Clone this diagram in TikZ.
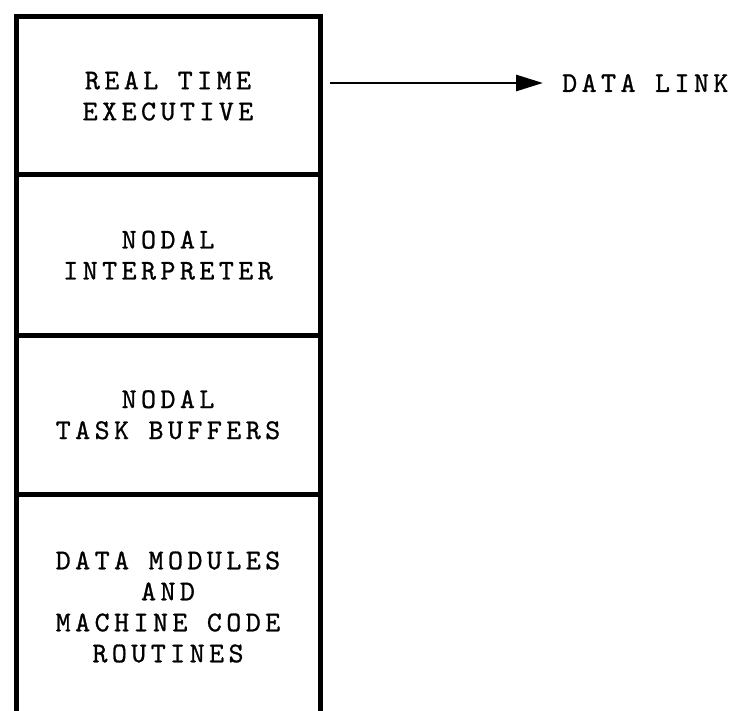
\documentclass[tikz,border=0pt]{standalone}
\usepackage{fontspec}
\newfontfamily\typer{lmmono10-regular.otf}[LetterSpace=15.5, FakeBold=0.9]
\usepackage{tikz}
\usetikzlibrary{positioning, arrows.meta}

\begin{document}
\begin{tikzpicture}[x=1pt, y=1pt, node distance=0pt,
    typed/.style={font=\typer\fontsize{28.6}{31}\selectfont},
    part/.style={typed, draw, line width=5pt, outer sep=0pt, minimum width=304pt, align=center},
    flow/.style={-{Triangle[length=27pt, width=16pt]}, line width=2.8pt, shorten <=10pt, shorten >=19pt}]
  \useasboundingbox (0,0) rectangle (735,710);
  \node[part, minimum height=158pt, anchor=north] (exec) at (168,693) {REAL TIME\\EXECUTIVE};
  \node[part, minimum height=160.5pt, below=of exec] (interp) {NODAL\\INTERPRETER};
  \node[part, minimum height=158.5pt, below=of interp] (buffers) {NODAL\\TASK BUFFERS};
  \node[part, minimum height=226pt, below=of buffers] (modules) {DATA MODULES\\AND\\MACHINE CODE\\ROUTINES};
  \node[typed, anchor=west, inner sep=0pt] (link) at (562,627) {DATA LINK};
  \draw[flow] (exec.east |- link.west) -- (link.west);
\end{tikzpicture}
\end{document}
